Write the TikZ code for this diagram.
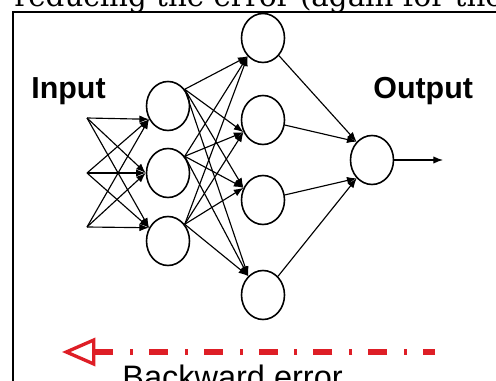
\documentclass[tikz,border=0pt]{standalone}
\usepackage{fontspec}
\newfontfamily\labelfont{Liberation Sans}
\newfontfamily\pagefont{DejaVu Serif}
\usetikzlibrary{arrows.meta,shapes.geometric}
\definecolor{errred}{RGB}{222,30,38}

\tikzset{
  neuron/.style={draw, ellipse, line width=0.9pt, minimum width=0.86cm, minimum height=0.98cm, inner sep=0pt},
  link/.style={line width=0.65pt, -{Latex[length=5.5pt,width=4.2pt]}},
  layerlabel/.style={font=\labelfont\bfseries\fontsize{17.3}{20}\selectfont, inner sep=0pt, anchor=base west},
  errlabel/.style={font=\labelfont\fontsize{18.5}{22}\selectfont, inner sep=0pt, anchor=base west},
  pagetext/.style={font=\pagefont\fontsize{16.7}{20}\selectfont, inner sep=0pt, anchor=base west},
  backerr/.style={errred, line width=2.9pt, dash pattern=on 10.8pt off 9.1pt on 1.7pt off 9.6pt, dash phase=4pt,
    -{Triangle[open, length=19pt, width=16pt, line width=1.9pt]}}
}

\begin{document}
\begin{tikzpicture}[x=0.02cm, y=-0.02cm]

  % Bounding box of the scheme
  \useasboundingbox (0,0) rectangle (496,381);
  \clip (0,0) rectangle (496,381);

  %%%%%%%%%%%%%%%%%%%%%%%%%%%%%%%%% Page around the scheme %%%%%%%%%%%%%%%%%%%%%%%%%%%%%%%%%%%%
  \node[pagetext] (pagetext) at (14,7) {reducing the error (again for the};
  \draw[line width=1.1pt] (496,12) -- (13,12) -- (13,381);

  %%%%%%%%%%%%%%%%%%%%%%%%%%%%%%%%% Neurons %%%%%%%%%%%%%%%%%%%%%%%%%%%%%%%%%%%%
  \coordinate (i1) at (87,118);
  \coordinate (i2) at (87,173);
  \coordinate (i3) at (87,227);

  \node[neuron] (h1) at (168,106) {};
  \node[neuron] (h2) at (168,173) {};
  \node[neuron] (h3) at (168,241) {};

  \node[neuron] (g1) at (263,38) {};
  \node[neuron] (g2) at (263,120) {};
  \node[neuron] (g3) at (263,200) {};
  \node[neuron] (g4) at (263,295) {};

  \node[neuron] (out) at (372,160) {};
  \coordinate (oend) at (443,160);

  %%%%%%%%%%%%%%%%%%%%%%%%%%%%%%%%% Connections %%%%%%%%%%%%%%%%%%%%%%%%%%%%%%%%%%%%
  \foreach \i in {1,2,3} {
    \draw[link] (i\i) -- (h1.215);
    \draw[link] (i\i) -- (h2.180);
    \draw[link] (i\i) -- (h3.145);
  }
  \foreach \h in {1,2,3} {
    \foreach \g/\a in {1/230,2/212,3/148,4/128}
      \draw[link] (h\h.45) -- (g\g.\a);
  }
  \foreach \g/\a in {1/130,2/130,3/230,4/230}
    \draw[link] (g\g) -- (out.\a);
  \draw[link] (out) -- (oend);

  %%%%%%%%%%%%%%%%%%%%%%%%%%%%%%%%% Labels %%%%%%%%%%%%%%%%%%%%%%%%%%%%%%%%%%%%
  \node[layerlabel] (inlabel) at (31,99) {Input};
  \node[layerlabel] (outlabel) at (373,99) {Output};

  %%%%%%%%%%%%%%%%%%%%%%%%%%%%%%%%% Backward error %%%%%%%%%%%%%%%%%%%%%%%%%%%%%%%%%%%%
  \coordinate (errstart) at (435,352);
  \coordinate (errend) at (62,352);
  \draw[backerr] (errstart) -- (errend);
  \node[errlabel] (errlabel) at (122,388) {Backward error};

\end{tikzpicture}
\end{document}
